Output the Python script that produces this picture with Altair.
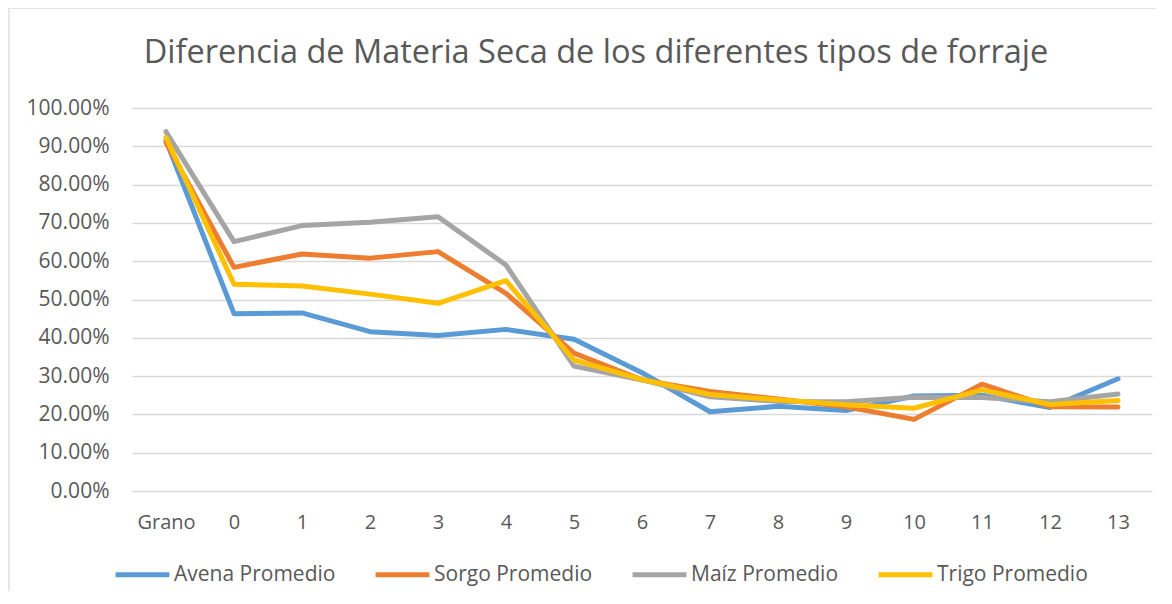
import altair as alt
import pandas as pd

categorias = ["Grano", "0", "1", "2", "3", "4", "5", "6", "7", "8", "9", "10", "11", "12", "13"]
series = ["Avena Promedio", "Sorgo Promedio", "Maíz Promedio", "Trigo Promedio"]
colores = ["#5B9BD5", "#ED7D31", "#A5A5A5", "#FFC000"]

avena = [91.5, 46.3, 46.5, 41.6, 40.6, 42.2, 39.6, 30.9, 20.7, 22.1, 21.0, 24.8, 25.0, 21.8, 29.3]
sorgo = [91.0, 58.4, 61.9, 60.8, 62.5, 51.6, 36.0, 29.0, 26.0, 24.0, 22.0, 18.7, 27.9, 22.0, 21.9]
maiz = [93.8, 65.1, 69.3, 70.2, 71.6, 59.0, 32.6, 29.0, 24.6, 23.4, 23.3, 24.5, 24.4, 23.3, 25.3]
trigo = [92.3, 54.0, 53.5, 51.4, 49.0, 54.9, 34.2, 29.1, 25.2, 23.8, 22.5, 21.6, 26.4, 22.6, 23.6]

valores = [avena, sorgo, maiz, trigo]
rows = []
for s, vals in zip(series, valores):
    for c, v in zip(categorias, vals):
        rows.append({"dia": c, "serie": s, "valor": v / 100.0})
df = pd.DataFrame(rows)

FONT = "Open Sans"
TXT = "#595959"

x_enc = alt.X("dia:N", sort=categorias,
              scale=alt.Scale(type="point", padding=0.5),
              axis=alt.Axis(title=None, labelAngle=0, domain=False, ticks=False,
                            labelFontSize=20, labelColor=TXT, labelFont=FONT,
                            labelPadding=21, grid=False))
y_enc = alt.Y("valor:Q", scale=alt.Scale(domain=[0, 1], nice=False),
              axis=alt.Axis(title=None, format=".2%", values=[i / 10 for i in range(11)],
                            domain=False, ticks=False, labelFontSize=21, labelColor=TXT,
                            labelFont=FONT, labelPadding=23, gridColor="#d9d9d9",
                            gridWidth=1.3))
color_enc = alt.Color("serie:N", sort=series,
                      scale=alt.Scale(domain=series, range=colores),
                      legend=alt.Legend(title=None, orient="none", direction="horizontal",
                                        legendX=-19, legendY=437,
                                        symbolType="stroke", symbolSize=2900,
                                        symbolStrokeWidth=5, labelFontSize=21,
                                        labelFont=FONT, labelColor=TXT, labelOffset=2,
                                        labelLimit=400, columnPadding=29))

frame = alt.Chart(pd.DataFrame({"a": [0]})).mark_rect(
    fill=None, stroke="#d9d9d9", strokeWidth=1.3
).encode(x=alt.value(-123), x2=alt.value(1028), y=alt.value(-100), y2=alt.value(500))

layers = [frame]
for s in series:
    layers.append(
        alt.Chart(df).transform_filter(alt.datum.serie == s)
        .mark_line(strokeWidth=5, strokeCap="round", strokeJoin="round")
        .encode(x=x_enc, y=y_enc, color=color_enc)
    )

chart = alt.layer(*layers).properties(
    width=1020, height=383,
    autosize=alt.AutoSizeParams(type="none"),
    padding={"left": 124, "top": 100, "right": 4, "bottom": 100},
    title=alt.TitleParams("Diferencia de Materia Seca de los diferentes tipos de forraje",
                          fontSize=32.5, font=FONT, fontWeight="normal", color=TXT,
                          anchor="middle", dx=-46, dy=88, offset=0, baseline="alphabetic"),
).configure_view(stroke=None)

chart.save("out.html", embed_options={"renderer": "svg", "actions": False})
